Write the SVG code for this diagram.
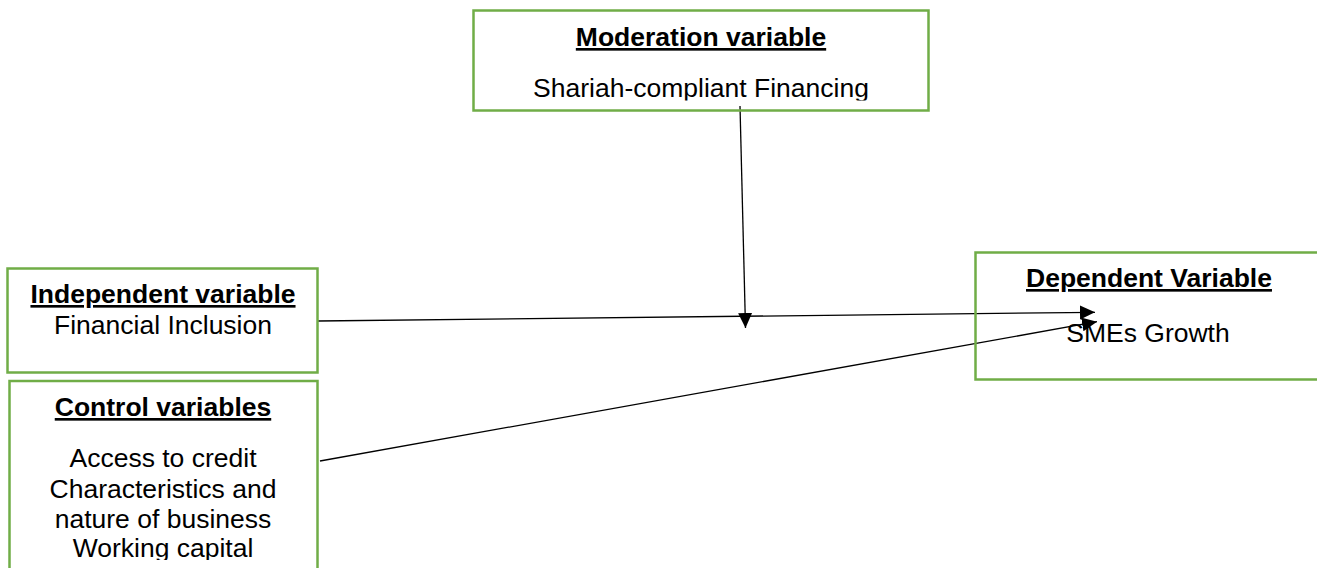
<svg xmlns="http://www.w3.org/2000/svg" width="1317" height="568" viewBox="0 0 1317 568">
<style>
.box{fill:none;stroke:#70AD47;stroke-width:2.5}
.h{font-family:"Liberation Sans",Arial,sans-serif;font-size:26.5px;font-weight:bold;text-decoration:underline;text-anchor:middle;fill:#000}
.t{font-family:"Liberation Sans",Arial,sans-serif;font-size:26.5px;text-anchor:middle;fill:#000}
.c{fill:none;stroke:#000;stroke-width:1.3}
</style>
<defs>
<marker id="ah" markerUnits="userSpaceOnUse" markerWidth="16" markerHeight="16" viewBox="0 0 16 16" refX="15" refY="8" orient="auto">
<path d="M0,1 L15,8 L0,15 Z" fill="#000"/>
</marker>
<clipPath id="clipMod"><rect x="474" y="11" width="454" height="89.5"/></clipPath>
<clipPath id="clipCtl"><rect x="10" y="382" width="307" height="178"/></clipPath>
</defs>
<g id="connectors">
<line class="c" x1="740" y1="106" x2="745.5" y2="328" marker-end="url(#ah)"/>
<line class="c" x1="318" y1="321" x2="1095" y2="312.3" marker-end="url(#ah)"/>
<line class="c" x1="320" y1="461" x2="1097" y2="321.7" marker-end="url(#ah)"/>
</g>
<g id="moderation">
<rect class="box" x="473.5" y="10.5" width="455" height="100"/>
<g clip-path="url(#clipMod)">
<text class="h" x="701" y="46">Moderation variable</text>
<text class="t" x="701" y="96.5">Shariah-compliant Financing</text>
</g>
</g>
<g id="independent">
<rect class="box" x="7.5" y="268.5" width="310" height="104"/>
<text class="h" x="163" y="303">Independent variable</text>
<text class="t" x="163" y="334">Financial Inclusion</text>
</g>
<g id="control">
<rect class="box" x="9.5" y="381" width="308" height="200"/>
<g clip-path="url(#clipCtl)">
<text class="h" x="163" y="416">Control variables</text>
<text class="t" x="163" y="467">Access to credit</text>
<text class="t" x="163" y="498">Characteristics and</text>
<text class="t" x="163" y="528">nature of business</text>
<text class="t" x="163" y="557">Working capital</text>
</g>
</g>
<g id="dependent">
<rect class="box" x="975.5" y="252.5" width="360" height="127"/>
<text class="h" x="1149" y="287">Dependent Variable</text>
<text class="t" x="1148" y="342">SMEs Growth</text>
</g>
</svg>
